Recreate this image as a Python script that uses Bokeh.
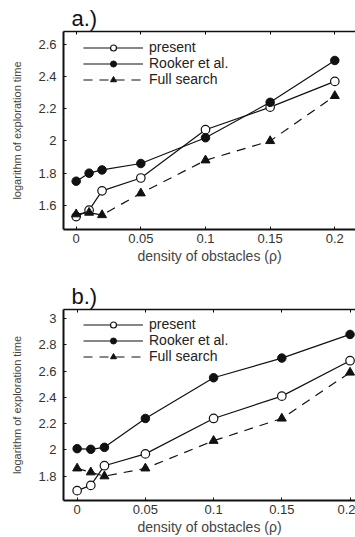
from bokeh.plotting import figure
from bokeh.models import Range1d, FixedTicker, LinearAxis, Legend, LegendItem
from bokeh.layouts import column
from bokeh.embed import file_html
from bokeh.resources import INLINE

density = [0, 0.01, 0.02, 0.05, 0.1, 0.15, 0.2]

a_present = [1.53, 1.57, 1.69, 1.77, 2.07, 2.21, 2.37]
a_rooker = [1.75, 1.80, 1.82, 1.86, 2.02, 2.24, 2.50]
a_full = [1.545, 1.555, 1.54, 1.675, 1.88, 2.00, 2.28]

b_present = [1.69, 1.73, 1.88, 1.97, 2.24, 2.41, 2.68]
b_rooker = [2.01, 2.005, 2.02, 2.24, 2.55, 2.70, 2.88]
b_full = [1.86, 1.83, 1.80, 1.86, 2.07, 2.24, 2.59]

x_ticks = [0, 0.05, 0.1, 0.15, 0.2]
x_tick_labels = ["0", "0.05", "0.1", "0.15", "0.2"]
a_y_ticks = [1.6, 1.8, 2.0, 2.2, 2.4, 2.6]
a_y_tick_labels = ["1.6", "1.8", "2", "2.2", "2.4", "2.6"]
b_y_ticks = [1.8, 2.0, 2.2, 2.4, 2.6, 2.8, 3.0]
b_y_tick_labels = ["1.8", "2", "2.2", "2.4", "2.6", "2.8", "3"]

series_names = ["present", "Rooker et al.", "Full search"]
panel_titles = ["a.)", "b.)"]
x_title = "density of obstacles (\u03c1)"
y_title = "logarithm of exploration time"

FONT = "Liberation Sans"


def make(label, present, rooker, full, yticks, ylabels, yr, xr, height, top, bottom):
    p = figure(width=355, height=height, output_backend="svg", toolbar_location=None,
               x_range=Range1d(*xr), y_range=Range1d(*yr),
               min_border_left=63, min_border_right=0, min_border_top=top,
               min_border_bottom=bottom, title=label)
    p.outline_line_color = None
    p.grid.visible = False
    p.background_fill_color = "white"
    p.border_fill_color = "white"

    t = p.title
    t.text_font = FONT
    t.text_font_size = "22px"
    t.text_font_style = "normal"
    t.text_color = "#111111"
    t.align = "left"
    t.offset = 8
    t.standoff = 2

    for ax in (p.xaxis[0], p.yaxis[0]):
        ax.axis_line_width = 2
        ax.axis_line_color = "#111111"
        ax.major_tick_in = 3
        ax.major_tick_out = 0
        ax.major_tick_line_color = "#111111"
        ax.minor_tick_line_color = None
        ax.major_label_text_font = FONT
        ax.major_label_text_font_size = "13px"
        ax.major_label_text_color = "#333333"
        ax.axis_label_text_font = FONT
        ax.axis_label_text_font_style = "normal"
        ax.axis_label_text_color = "#444444"

    p.xaxis.ticker = FixedTicker(ticks=x_ticks)
    p.xaxis.major_label_overrides = dict(zip(x_ticks, x_tick_labels))
    p.xaxis.axis_label = x_title
    p.xaxis.axis_label_text_font_size = "14px"
    p.xaxis.major_label_standoff = 4
    p.xaxis.axis_label_standoff = 2

    p.yaxis.ticker = FixedTicker(ticks=yticks)
    p.yaxis.major_label_overrides = dict(zip(yticks, ylabels))
    p.yaxis.axis_label = y_title
    p.yaxis.axis_label_text_font_size = "11px"
    p.yaxis.major_label_standoff = 7
    p.yaxis.axis_label_standoff = 12

    topax = LinearAxis(ticker=FixedTicker(ticks=x_ticks), axis_line_width=1.5,
                       axis_line_color="#111111", major_tick_in=3, major_tick_out=0,
                       minor_tick_line_color=None, major_label_standoff=0,
                       major_label_text_font_size="1px",
                       major_label_overrides={tk: "" for tk in x_ticks})
    p.add_layout(topax, "above")

    l1 = p.line(density, present, line_color="#111111", line_width=1.2)
    s1 = p.scatter(density, present, marker="circle", size=8.5, fill_color="white",
                   line_color="#111111", line_width=1.2)
    l2 = p.line(density, rooker, line_color="#111111", line_width=1.2)
    s2 = p.scatter(density, rooker, marker="circle", size=8.5, fill_color="#111111",
                   line_color="#111111")
    l3 = p.line(density, full, line_color="#111111", line_width=1.2, line_dash="9 7")
    s3 = p.scatter(density, full, marker="triangle", size=9, fill_color="#111111",
                   line_color="#111111")

    frame_h = height - top - bottom
    legend = Legend(items=[LegendItem(label=series_names[0], renderers=[l1, s1]),
                           LegendItem(label=series_names[1], renderers=[l2, s2]),
                           LegendItem(label=series_names[2], renderers=[l3, s3])],
                    location=(20, frame_h - 14 - 45), margin=0, padding=0, spacing=0,
                    glyph_width=60, glyph_height=15, label_height=15,
                    label_standoff=6, border_line_color=None,
                    background_fill_alpha=0,
                    label_text_font=FONT, label_text_font_size="14px",
                    label_text_color="#222222")
    p.add_layout(legend)
    return p


pa = make(panel_titles[0], a_present, a_rooker, a_full, a_y_ticks, a_y_tick_labels,
          (1.45, 2.68), (-0.0098, 0.216), 266, 31, 34)
pb = make(panel_titles[1], b_present, b_rooker, b_full, b_y_ticks, b_y_tick_labels,
          (1.615, 3.07), (-0.0100, 0.204), 271, 43, 33)

layout = column(pa, pb, spacing=0)
open("out.html", "w").write(file_html(layout, INLINE))
